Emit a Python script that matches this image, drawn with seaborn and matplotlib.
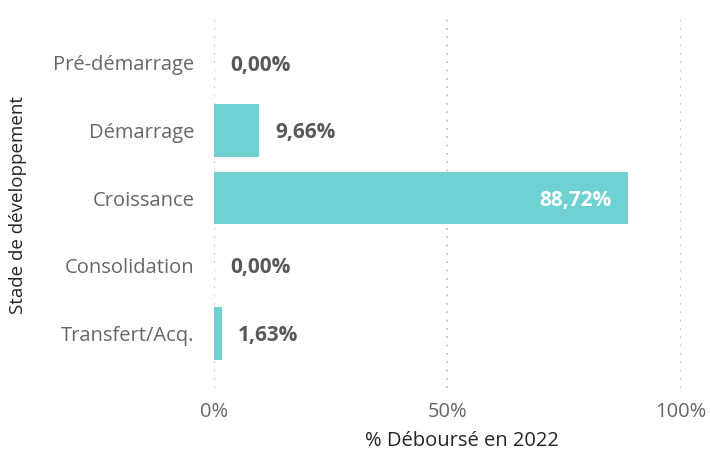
import matplotlib.pyplot as plt
import seaborn as sns
import pandas as pd

# Données
stades = ["Pré-démarrage", "Démarrage", "Croissance", "Consolidation", "Transfert/Acq."]
pourcentages = [0.00, 9.66, 88.72, 0.00, 1.63]
etiquettes = ["0,00%", "9,66%", "88,72%", "0,00%", "1,63%"]

data = pd.DataFrame({"Stade": stades, "Pct": pourcentages})

sns.set_style("white")
plt.rcParams["font.family"] = ["Open Sans", "DejaVu Sans"]

fig = plt.figure(figsize=(7.1, 4.51), dpi=100)
ax = fig.add_axes([0.3014, 0.1397, 0.6577, 0.827])

sns.barplot(data=data, x="Pct", y="Stade", orient="h", color="#6FD1D2",
            saturation=1, width=0.78, linewidth=0, ax=ax)

ax.set_xlim(0, 100)
ax.set_ylim(4.81, -0.71)
ax.set_xticks([0, 50, 100])
ax.set_xticklabels(["0%", "50%", "100%"])
ax.grid(axis="x", linestyle=(0, (1, 4)), color="#BBBBBB", linewidth=1.2)
ax.grid(axis="y", visible=False)
ax.set_axisbelow(True)
for s in ax.spines.values():
    s.set_visible(False)

ax.tick_params(axis="x", length=0, pad=10, labelsize=14.5, labelcolor="#666666")
ax.tick_params(axis="y", length=0, pad=14, labelsize=14.5, labelcolor="#666666")

ax.set_xlabel("% Déboursé en 2022", fontsize=14.5, color="#252525")
ax.xaxis.set_label_coords(0.531, -0.115)
ax.set_ylabel("Stade de développement", fontsize=13.5, color="#252525")
ax.yaxis.set_label_coords(-0.40, 0.49)

# Étiquettes de données
for i, (v, lab) in enumerate(zip(pourcentages, etiquettes)):
    if v > 50:
        ax.annotate(lab, (v, i), xytext=(-12, -1.5), textcoords="offset points",
                    ha="right", va="center", fontsize=15, fontweight="bold",
                    color="white")
    else:
        ax.annotate(lab, (v, i), xytext=(12, -1.5), textcoords="offset points",
                    ha="left", va="center", fontsize=15, fontweight="bold",
                    color="#595959")

fig.savefig("out.png", dpi=100)
